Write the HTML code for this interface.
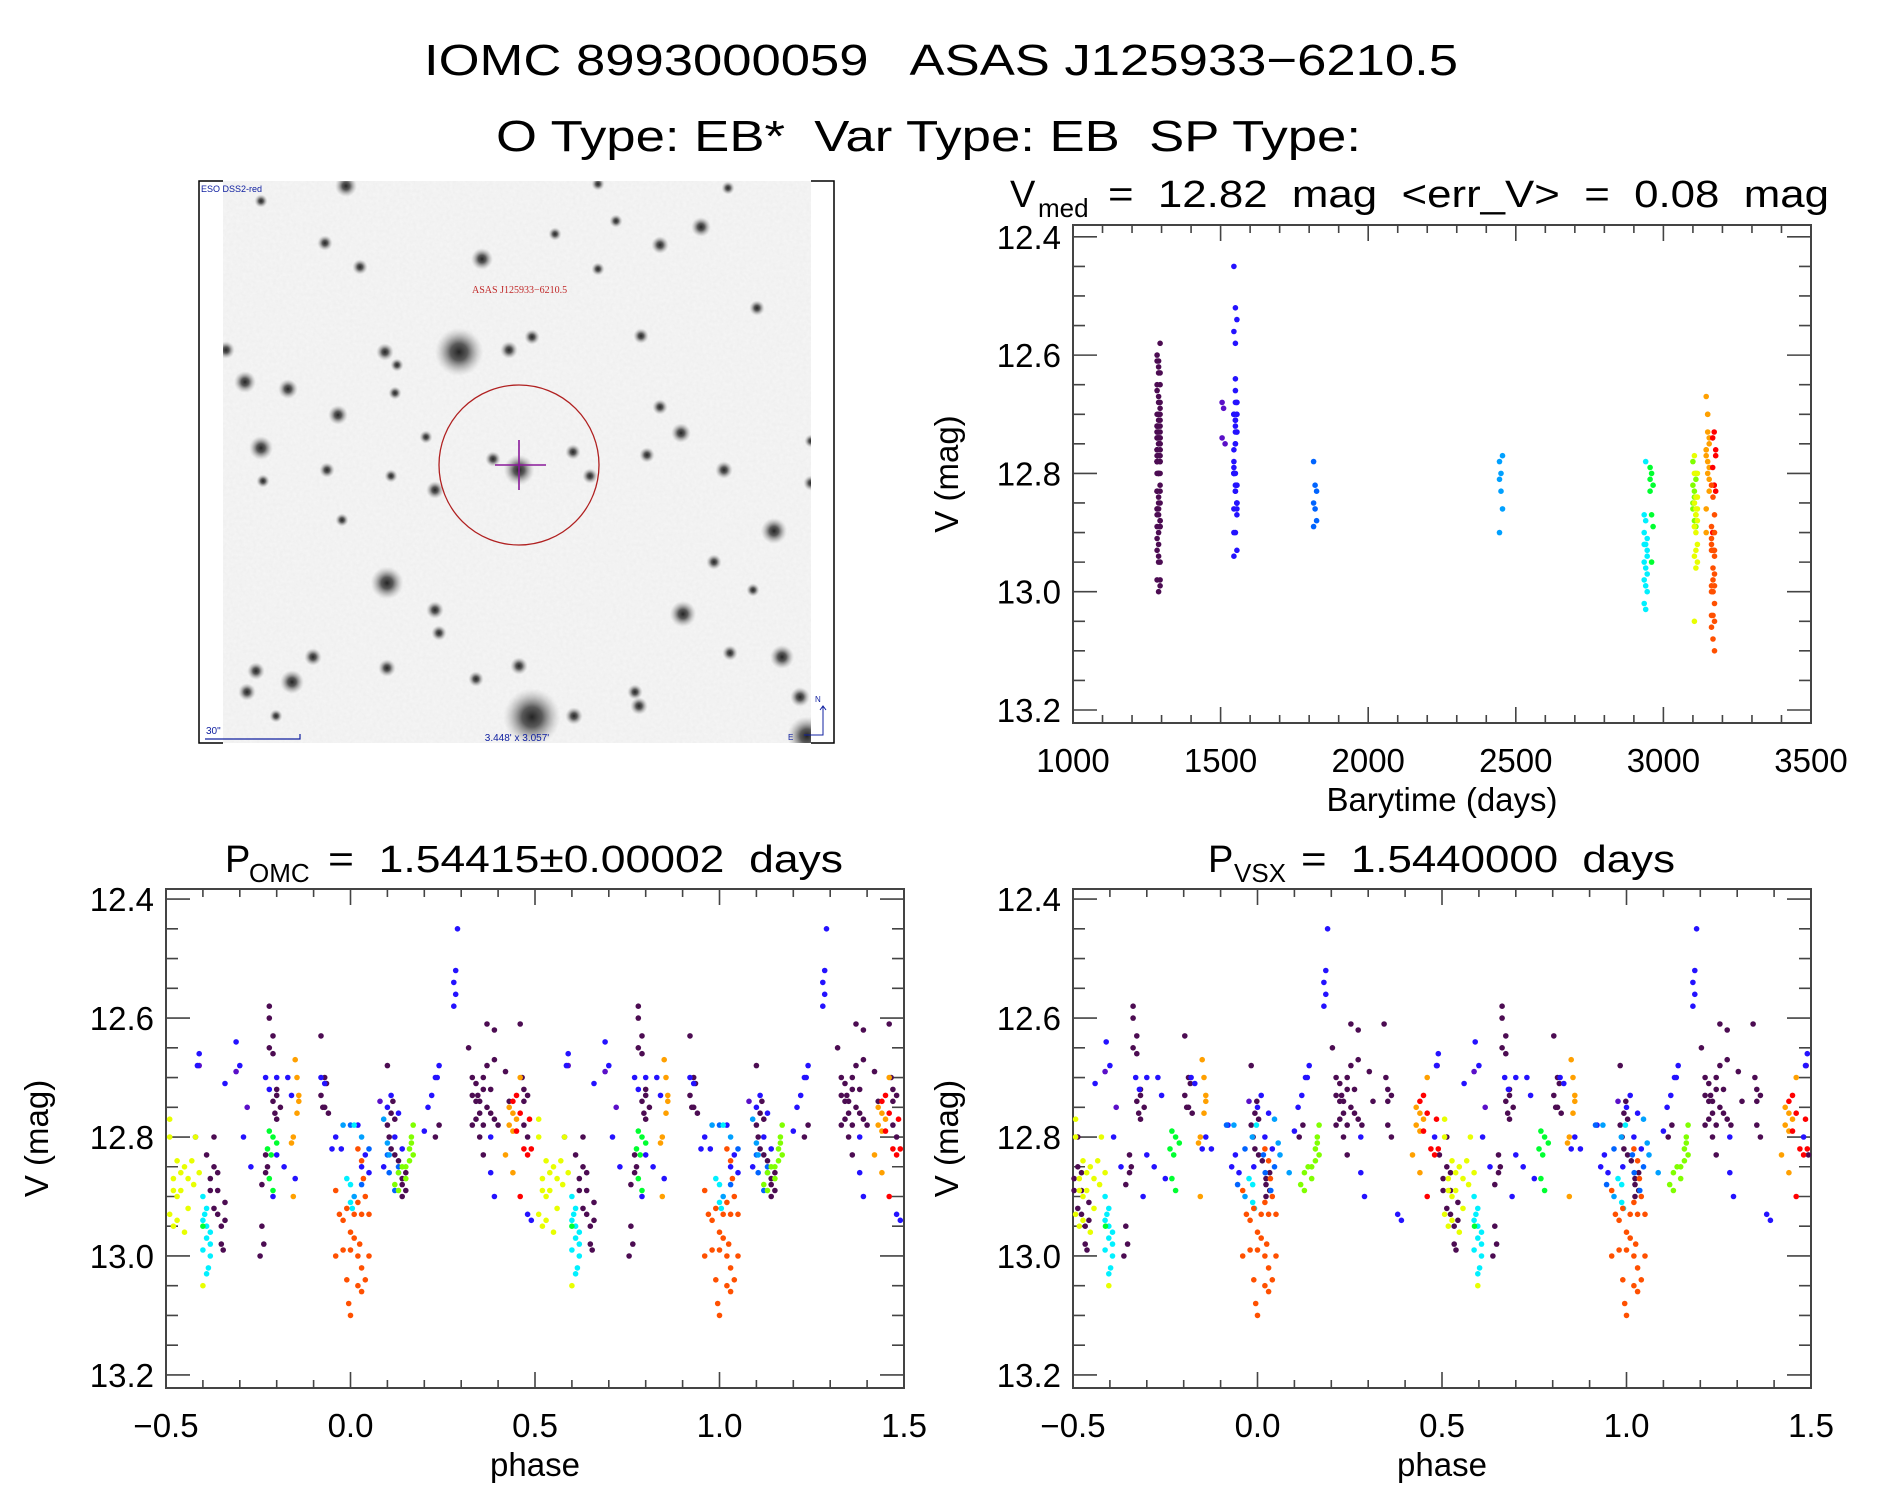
<!DOCTYPE html>
<html><head><meta charset="utf-8"><title>IOMC 8993000059 light curves</title>
<style>
html,body{margin:0;padding:0;background:#fff;}
svg{display:block;font-family:"Liberation Sans","DejaVu Sans",sans-serif;}
svg text{white-space:pre;}
</style></head>
<body>
<svg id="fig" xmlns="http://www.w3.org/2000/svg" xml:space="preserve" width="1889" height="1494" viewBox="0 0 1889 1494">
<defs>
<radialGradient id="star"><stop offset="0" stop-color="#000" stop-opacity="1"/><stop offset="0.35" stop-color="#111" stop-opacity="0.8"/><stop offset="1" stop-color="#999" stop-opacity="0"/></radialGradient>
<filter id="grain" filterUnits="userSpaceOnUse" x="223" y="181" width="588" height="562"><feTurbulence type="fractalNoise" baseFrequency="0.3" numOctaves="2" seed="3"/><feColorMatrix values="0 0 0 0 0.5  0 0 0 0 0.5  0 0 0 0 0.5  0 0 0 0.14 0"/></filter>
<clipPath id="imgclip"><rect x="223" y="181" width="588" height="562"/></clipPath>
</defs>
<g>
<text x="424" y="75" font-size="44" textLength="1034" lengthAdjust="spacingAndGlyphs">IOMC 8993000059   ASAS J125933−6210.5</text>
<text x="496" y="151" font-size="44" textLength="865" lengthAdjust="spacingAndGlyphs">O Type: EB*  Var Type: EB  SP Type:</text>
</g>
<g id="finder">
<rect x="223" y="181" width="588" height="562" fill="#f6f6f6"/>
<rect x="223" y="181" width="588" height="562" filter="url(#grain)"/>
<g id="stars" clip-path="url(#imgclip)"></g>
<path d="M223,181 H199 V743 H223 M811,181 H834 V743 H811" fill="none" stroke="#000" stroke-width="1.5"/>
<circle cx="519" cy="465" r="80" fill="none" stroke="#b02020" stroke-width="1.3"/>
<path d="M495,465 H546 M519,440 V490" stroke="#8a1a9a" stroke-width="1.6"/>
<text x="472" y="293" font-size="10" fill="#c02828" font-family="Liberation Serif, serif">ASAS J125933−6210.5</text>
<text x="201" y="192" font-size="9" fill="#1020a0">ESO DSS2-red</text>
<text x="206" y="734" font-size="10" fill="#1020a0">30"</text>
<path d="M205,739 H300 V734" stroke="#1020a0" stroke-width="1.2" fill="none"/>
<text x="517" y="741" font-size="10" fill="#1020a0" text-anchor="middle">3.448' x 3.057'</text>
<path d="M823,706 V735 H804 M820,710 L823,706 L826,710" stroke="#1020a0" stroke-width="1" fill="none"/>
<text x="815" y="702" font-size="8" fill="#1020a0">N</text>
<text x="788" y="740" font-size="8" fill="#1020a0">E</text>
</g>
<g id="plots"></g>
</svg>
<script>
// ---------- data ----------
const groupNames = ["purple","violet","blue","azure1","azure2","cyan","green","ygreen","yellow","orange","red","orangered"];
const groupColors = ["#4c0c52","#5a10c8","#2412ff","#0064ff","#00a0ff","#00f0ff","#00ff30","#80ff00","#e8ff00","#ffa000","#ff0000","#ff5000"];
const groupTimes = [1290,1510,1550,1820,2450,2940,2960,3105,3110,3150,3172,3168];
const groupShiftVsx = [-0.117,-0.103,-0.100,-0.084,-0.044,-0.013,-0.012,-0.003,-0.003,0,0,0];
const groupPhases = [
 [0.32,0.33,0.34,0.345,0.33,0.34,0.35,0.36,0.37,0.36,0.37,0.38,0.38,0.39,0.40,0.33,0.34,0.35,0.37,0.39,0.36,0.35,0.39,0.42,0.43,0.46,0.465,0.47,0.47,0.48,0.47,0.48,0.36,
  0.62,0.63,0.64,0.64,0.65,0.65,0.66,0.66,0.63,0.64,0.62,0.655,0.61,0.63,
  0.76,0.77,0.775,0.76,0.765,0.755,0.78,0.78,0.79,0.78,0.79,0.80,0.79,0.80,0.81,0.80,0.795,0.77,
  0.92,0.93,0.92,0.93,0.94,0.935,0.925,
  0.10,0.105,0.11,0.12,0.13,0.14,0.15,0.14,0.15,0.14,0.10,0.11,0.12,0.115,0.23,0.24],
 [0.59,0.69,0.72,0.08],
 [0.29,0.285,0.28,0.285,0.28,0.38,0.38,0.39,0.48,0.49,0.59,0.585,0.58,0.69,0.70,0.71,0.66,0.73,0.77,0.78,0.80,0.79,0.80,0.82,0.83,0.84,0.85,0.92,0.93,0.95,0.96,0.975,0.11,0.13,0.12,0.14,0.20,0.21,0.22,0.23,0.24,0.235,0.02,0.04,0.03,0.05,0.10,0.09],
 [0.00,0.05,0.10,0.13,0.105,0.03,0.12],
 [0.98,0.03,0.09,0.10,0.105,0.13,0.01],
 [0.60,0.61,0.60,0.61,0.62,0.61,0.62,0.60,0.62,0.615,0.61,0.605,0.99,0.00,0.00,0.005,0.01],
 [0.78,0.79,0.775,0.785,0.78,0.79,0.80,0.60],
 [0.13,0.14,0.15,0.16,0.17,0.165,0.17,0.12,0.13,0.15,0.16,0.165],
 [0.51,0.52,0.53,0.52,0.53,0.54,0.55,0.51,0.52,0.53,0.55,0.56,0.54,0.57,0.58,0.60,0.59,0.575,0.51,0.56],
 [0.85,0.855,0.86,0.855,0.845,0.84,0.845,0.86,0.43,0.44,0.43,0.44,0.45,0.46,0.42,0.44],
 [0.44,0.45,0.46,0.45,0.47,0.48,0.46,0.49,0.485],
 [0.96,0.97,0.98,0.99,0.00,0.01,0.02,0.03,0.04,0.05,0.96,0.98,0.00,0.02,0.03,0.05,0.04,0.02,0.99,0.995,0.00,0.03,0.025,0.01,0.02,0.03,0.035]
];
const groupMags = [
 [12.65,12.70,12.71,12.73,12.73,12.74,12.74,12.70,12.68,12.72,12.75,12.72,12.76,12.77,12.78,12.78,12.77,12.76,12.61,12.62,12.78,12.80,12.67,12.69,12.74,12.61,12.70,12.72,12.74,12.73,12.78,12.80,12.83,
  12.89,12.92,12.89,12.93,12.95,12.98,12.91,12.94,12.85,12.86,12.87,12.99,12.83,12.80,
  12.88,12.83,12.85,12.95,12.98,13.00,12.58,12.60,12.63,12.65,12.66,12.72,12.74,12.73,12.75,12.77,12.76,12.86,
  12.63,12.70,12.73,12.75,12.76,12.71,12.75,
  12.78,12.80,12.82,12.83,12.84,12.88,12.86,12.90,12.89,12.87,12.68,12.76,12.77,12.74,12.80,12.78],
 [12.68,12.69,12.75,12.74],
 [12.45,12.52,12.54,12.56,12.58,12.86,12.80,12.90,12.93,12.94,12.66,12.68,12.80,12.64,12.68,12.80,12.71,12.85,12.70,12.72,12.70,12.90,12.83,12.85,12.70,12.73,12.87,12.70,12.71,12.82,12.80,12.82,12.73,12.76,12.80,12.82,12.79,12.75,12.73,12.70,12.68,12.70,12.78,12.83,12.85,12.86,12.75,12.85],
 [12.78,12.82,12.83,12.85,12.86,12.88,12.89],
 [12.78,12.80,12.77,12.81,12.83,12.86,12.90],
 [12.90,12.92,12.94,12.95,12.96,12.97,12.98,12.99,13.00,13.02,13.03,12.93,12.87,12.88,12.91,12.92,12.78],
 [12.79,12.80,12.82,12.83,12.87,12.89,12.81,12.95],
 [12.86,12.85,12.87,12.82,12.83,12.81,12.78,12.88,12.89,12.85,12.84,12.80],
 [12.80,12.87,12.84,12.89,12.90,12.86,12.85,12.93,12.95,12.94,12.96,12.92,12.89,12.84,12.80,13.05,12.86,12.88,12.77,12.87],
 [12.67,12.70,12.74,12.76,12.80,12.81,12.90,12.73,12.75,12.76,12.78,12.79,12.77,12.70,12.83,12.86],
 [12.74,12.73,12.76,12.79,12.82,12.83,12.90,12.82,12.77],
 [12.89,12.93,12.94,12.92,12.96,12.93,12.91,12.93,12.90,12.93,13.00,12.99,12.99,13.00,13.02,13.00,13.04,13.05,13.04,13.08,13.10,13.06,12.98,12.97,12.82,12.84,12.87]
];
const timeTicks = [1000,1500,2000,2500,3000,3500];
const magTicks = [12.4,12.6,12.8,13.0,13.2];
const phaseTicks = [-0.5,0.0,0.5,1.0,1.5];
const starX = [459,532,387,519,774,683,807,261,245,288,338,346,482,701,660,757,782,800,292,256,247,313,387,435,439,509,532,681,724,647,590,573,493,435,327,385,325,360,598,641,660,714,753,730,639,635,476,519,574,276,226,811,811,426,391,342,263,598,728,261,555,616,395,397];
const starY = [352,717,583,470,531,614,736,448,382,389,415,186,259,227,245,308,657,697,682,671,692,657,668,610,633,350,337,433,470,455,476,452,459,490,470,352,243,267,269,336,407,562,590,653,706,692,679,666,716,716,350,483,441,437,476,520,481,184,188,201,234,221,393,365];
const starR = [22,26,15,14,12,12,18,11,10,9,9,10,10,9,8,7,11,9,11,8,8,8,8,8,7,8,7,9,8,7,7,7,7,8,7,8,7,7,6,7,7,7,6,7,8,7,7,8,8,6,8,7,6,6,6,6,6,6,6,6,6,6,6,6];

const NS = "http://www.w3.org/2000/svg";
function mk(tag, attrs, parent){ const e=document.createElementNS(NS,tag); for(const k in attrs) e.setAttribute(k,attrs[k]); (parent||document.getElementById("plots")).appendChild(e); return e; }

// stars
const starG = document.getElementById("stars");
for (let i=0;i<starX.length;i++){
  const c = mk("circle",{cx:starX[i],cy:starY[i],r:starR[i]*1.1,fill:"url(#star)",opacity:0.85},starG);
  
  
}

function makeAxes(p){
  const g = mk("g",{});
  
  
  const sx = v => p.x0 + (v - p.xmin)/(p.xmax - p.xmin)*(p.x1 - p.x0);
  const sy = v => p.y0 + (v - p.ymin)/(p.ymax - p.ymin)*(p.y1 - p.y0);
  const box = mk("rect",{x:p.x0,y:p.y0,width:p.x1-p.x0,height:p.y1-p.y0,fill:"none",stroke:"#444","stroke-width":2},g);
  
  
  let d = "";
  for (let k=0;k<=Math.round((p.xmax-p.xmin)/p.xminor);k++){
    const v = p.xmin + k*p.xminor; const X = sx(v);
    const major = Math.abs(((v-p.xmin)/p.xmajor) - Math.round((v-p.xmin)/p.xmajor))<1e-6;
    const L = major?16:8;
    d += `M${X},${p.y1}V${p.y1-L}M${X},${p.y0}V${p.y0+L}`;
  }
  for (let k=0;;k++){
    const v = p.ymajStart + k*p.yminor; if (v > p.ymax+1e-9) break;
    const Y = sy(v);
    const major = Math.abs(((v-p.ymajStart)/p.ymajor) - Math.round((v-p.ymajStart)/p.ymajor))<1e-6;
    const L = major?24:12;
    d += `M${p.x0},${Y}H${p.x0+L}M${p.x1},${Y}H${p.x1-L}`;
  }
  for (let k=1;;k++){ const v = p.ymajStart - k*p.yminor; if (v < p.ymin) break; const Y=sy(v); d+=`M${p.x0},${Y}H${p.x0+12}M${p.x1},${Y}H${p.x1-12}`; }
  const t = mk("path",{d:d,stroke:"#444","stroke-width":1.6,fill:"none"},g);
  
  
  p.xticks.forEach(v=>{
    const tx = mk("text",{x:sx(v),y:p.y1+49,"font-size":33,"text-anchor":"middle"},g);
    
    
    tx.textContent = p.xfmt(v);
  });
  magTicks.forEach(v=>{
    const ty = mk("text",{x:p.x0-12,y:sy(v)+12,"font-size":33,"text-anchor":"end"},g);
    
    
    ty.textContent = v.toFixed(1);
  });
  const xl = mk("text",{x:(p.x0+p.x1)/2,y:p.y1+88,"font-size":33,"text-anchor":"middle"},g);
  
  
  xl.textContent = p.xlabel;
  const yc = (p.y0+p.y1)/2;
  const yl = mk("text",{x:p.ylx,y:yc,"font-size":33,"text-anchor":"middle",transform:`rotate(-90 ${p.ylx} ${yc})`},g);
  
  
  yl.textContent = "V (mag)";
  return {g,sx,sy};
}

function title(g, main, sub, rest, xMain, xSub, xRest, xEnd, base, name){
  const a = mk("text",{x:xMain,y:base,"font-size":38},g);
  
  
  a.textContent = main;
  const b = mk("text",{x:xSub,y:base+10,"font-size":26},g);
  
  
  b.textContent = sub;
  const c = mk("text",{x:xRest,y:base,"font-size":38,textLength:xEnd-xRest,lengthAdjust:"spacingAndGlyphs"},g);
  
  
  c.textContent = rest;
}

function dot(g,x,y,col){
  const c = mk("circle",{cx:x.toFixed(1),cy:y.toFixed(1),r:2.8,fill:col},g);
  
  
}

// time series
const ts = makeAxes({name:"time-series-plot",x0:1073,x1:1811,y0:225,y1:723,xmin:1000,xmax:3500,ymin:12.38,ymax:13.222,
  xmajor:500,xminor:100,ymajStart:12.4,ymajor:0.2,yminor:0.05,xticks:timeTicks,xfmt:v=>String(v),xlabel:"Barytime (days)",ylx:958});
title(ts.g,"V","med","=  12.82  mag  <err_V>  =  0.08  mag",1010,1038,1108,1829,207,"time-series-title");
groupTimes.forEach((t,gi)=>{
  groupMags[gi].forEach((m,j)=>{ dot(ts.g, ts.sx(t)+((j%3)-1)*1.5, ts.sy(m), groupColors[gi]); });
});

function phasePlot(name,x0,x1,ylx,useShift){
  const pp = makeAxes({name:name,x0:x0,x1:x1,y0:889,y1:1388,xmin:-0.5,xmax:1.5,ymin:12.383,ymax:13.222,
    xmajor:0.5,xminor:0.1,ymajStart:12.4,ymajor:0.2,yminor:0.05,xticks:phaseTicks,xfmt:v=>(v<0?"−":"")+Math.abs(v).toFixed(1),xlabel:"phase",ylx:ylx});
  groupPhases.forEach((ph,gi)=>{
    const sh = useShift ? groupShiftVsx[gi] : 0;
    ph.forEach((p,j)=>{
      const base = (((p+sh)%1)+1)%1;
      [-1,0,1].forEach(k=>{ const q=base+k; if(q>=-0.5&&q<=1.5) dot(pp.g, pp.sx(q), pp.sy(groupMags[gi][j]), groupColors[gi]); });
    });
  });
  return pp;
}
const pl = phasePlot("phase-plot-omc",166,904,48,false);
title(pl.g,"P","OMC","=  1.54415±0.00002  days",225,249,328,843,872,"omc-period-title");
const pr = phasePlot("phase-plot-vsx",1073,1811,958,true);
title(pr.g,"P","VSX","=  1.5440000  days",1208,1234,1301,1675,872,"vsx-period-title");
</script>
</body></html>
